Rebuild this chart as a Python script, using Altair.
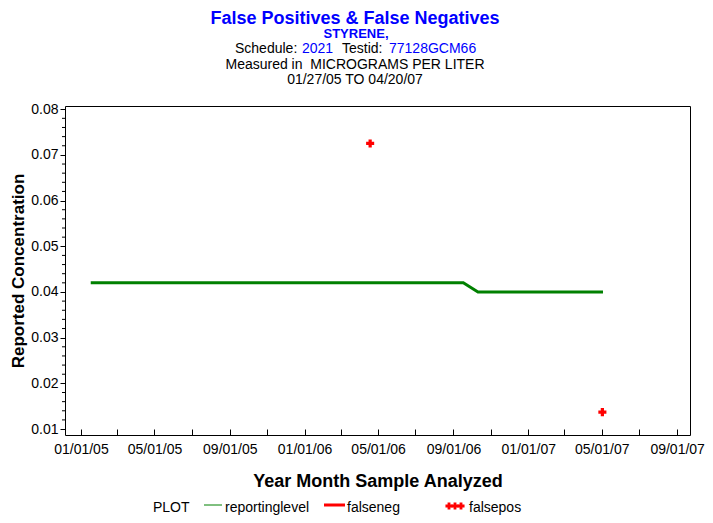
import altair as alt
import pandas as pd

# ---- data ----
level_dates = ["2005-01-17", "2006-09-17", "2006-10-11", "2007-05-03"]
level_values = [0.042, 0.042, 0.040, 0.040]
falsepos_dates = ["2006-04-18", "2007-05-02"]
falsepos_values = [0.0725, 0.0137]
legend_labels = ["reportinglevel", "falseneg", "falsepos"]
y_major = [0.01, 0.02, 0.03, 0.04, 0.05, 0.06, 0.07, 0.08]
y_minor = [round(0.01 + 0.002 * i, 3) for i in range(36) if i % 5 != 0]
x_tick_months = [(y, m) for y in (2005, 2006, 2007) for m in (1, 3, 5, 7, 9, 11)
                 if not (y == 2007 and m > 9)]

W, H = 625, 329
FONT = "Liberation Sans"
BLUE = "#0000FF"

level_df = pd.DataFrame({"date": level_dates, "value": level_values})
fp_df = pd.DataFrame({"date": falsepos_dates, "value": falsepos_values})
minor_df = pd.DataFrame({"value": y_minor})
one = pd.DataFrame({"k": [0]})

x_scale = alt.Scale(type="utc",
                    domain=[alt.DateTime(year=2004, month=12, date=6, utc=True),
                            alt.DateTime(year=2007, month=9, date=22, utc=True)])
y_scale = alt.Scale(domain=[0.0087, 0.0807], nice=False, zero=False)

x_axis = alt.Axis(
    values=[alt.DateTime(year=y, month=m, date=1, utc=True) for y, m in x_tick_months],
    labelExpr="utcmonth(datum.value) % 4 == 0 ? utcFormat(datum.value, '%m/%d/%y') : ''",
    domain=False, grid=False, offset=-6, tickSize=6, tickColor="black",
    labelFontSize=14, labelColor="black", labelPadding=7, labelFont=FONT,
    title="Year Month Sample Analyzed", titleFontSize=18, titleFont=FONT,
    titleFontWeight="bold", titleColor="black", titleY=52, titleBaseline="middle",
)
y_axis = alt.Axis(
    values=y_major, format=".2f", domain=False, grid=False, tickSize=5,
    tickColor="black", labelFontSize=14, labelColor="black", labelPadding=2,
    labelFont=FONT, title="Reported Concentration", titleFontSize=17,
    titleFont=FONT, titleFontWeight="bold", titleColor="black",
    titleX=-47, titleY=H / 2, titleAngle=-90, titleAlign="center",
    titleBaseline="middle",
)

line = alt.Chart(level_df).mark_line(color="#008000", strokeWidth=3).encode(
    x=alt.X("date:T", scale=x_scale, axis=x_axis),
    y=alt.Y("value:Q", scale=y_scale, axis=y_axis),
)
minor = alt.Chart(minor_df).mark_rule(color="black", strokeWidth=1).encode(
    x=alt.value(-3), x2=alt.value(0),
    y=alt.Y("value:Q", scale=y_scale, axis=y_axis),
)
points = alt.Chart(fp_df).mark_point(shape="cross", filled=True, size=65,
                                     color="#FF0000", opacity=1).encode(
    x=alt.X("date:T", scale=x_scale, axis=x_axis),
    y=alt.Y("value:Q", scale=y_scale, axis=y_axis),
)


def txt(text, x, y, size=14, color="black", weight="normal", align="left"):
    return alt.Chart(one).mark_text(
        text=text, x=x, y=y, fontSize=size, color=color, fontWeight=weight,
        align=align, baseline="alphabetic", font=FONT,
    )


TOP = 106
titles = [
    txt("False Positives & False Negatives", 290, 24 - TOP, 18, BLUE, "bold", "center"),
    txt("STYRENE,", 291, 37.5 - TOP, 13, BLUE, "bold", "center"),
    txt("Schedule:", 170, 52.5 - TOP),
    txt("2021", 237, 52.5 - TOP, color=BLUE),
    txt("Testid:", 277, 52.5 - TOP),
    txt("77128GCM66", 324, 52.5 - TOP, color=BLUE),
    txt("Measured in\u00a0 MICROGRAMS PER LITER", 290, 68.5 - TOP, align="center"),
    txt("01/27/05 TO 04/20/07", 290, 84 - TOP, align="center"),
]

LEG_T = 406
LEG_Y = 399
legend = [
    txt("PLOT", 88, LEG_T),
    alt.Chart(one).mark_rule(color="#008000", strokeWidth=1).encode(
        x=alt.value(139), x2=alt.value(157), y=alt.value(LEG_Y)),
    txt(legend_labels[0], 160, LEG_T),
    alt.Chart(one).mark_rule(color="#FF0000", strokeWidth=3).encode(
        x=alt.value(259), x2=alt.value(280), y=alt.value(LEG_Y)),
    txt(legend_labels[1], 282, LEG_T),
]
for cx in (384, 390, 396):
    legend.append(alt.Chart(one).mark_point(shape="cross", filled=True, size=50,
                                            color="#FF0000", opacity=1).encode(
        x=alt.value(cx), y=alt.value(LEG_Y + 1)))
legend.append(txt(legend_labels[2], 404, LEG_T))

chart = alt.layer(line, minor, points, *titles, *legend).properties(
    width=W, height=H,
    autosize=alt.AutoSizeParams(type="none"),
    padding={"left": 57, "top": 98, "right": 15, "bottom": 80},
    background="white",
).configure(font=FONT).configure_view(stroke="black", strokeWidth=1)

chart.save("out.html", embed_options={"renderer": "svg", "actions": False})
